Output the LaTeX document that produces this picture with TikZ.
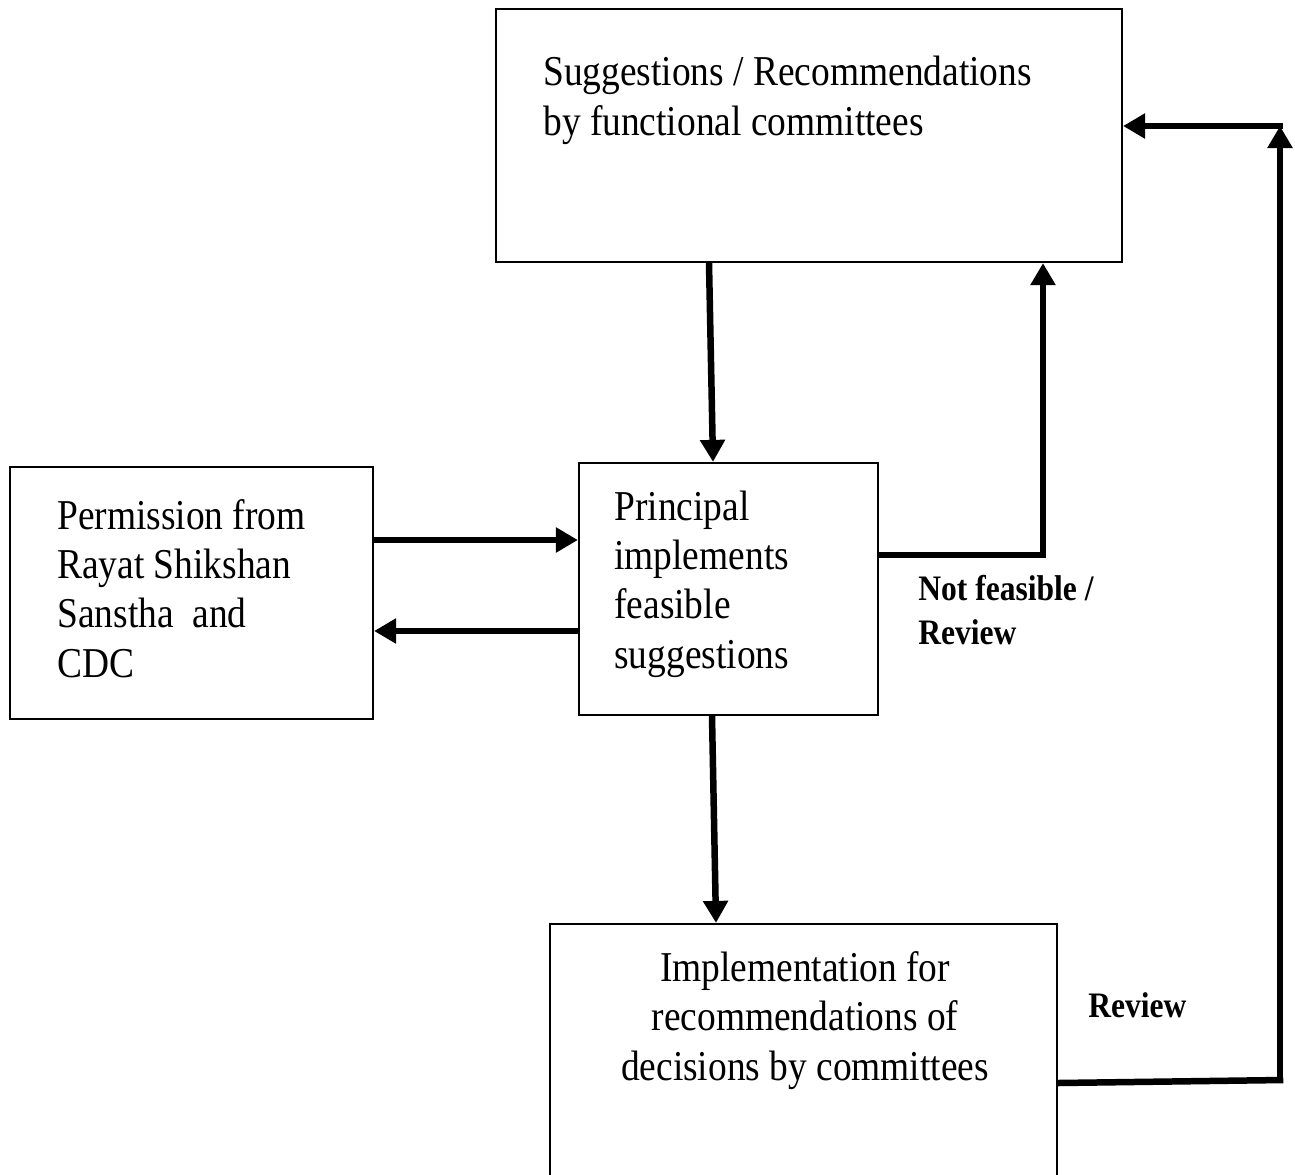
\documentclass[tikz,border=0pt]{standalone}
\usepackage{fontspec}
\setmainfont[FakeStretch=0.88]{Liberation Serif}
\usetikzlibrary{arrows.meta}
\begin{document}
\begin{tikzpicture}[x=0.02cm,y=-0.02cm,
  boxnode/.style={draw=black,line width=1.3pt,rectangle,inner sep=0pt},
  txt/.style={inner sep=0pt,font=\fontsize{24.2pt}{27.9pt}\selectfont},
  lbl/.style={inner sep=0pt,align=left,font=\fontsize{20.4pt}{24.5pt}\selectfont\bfseries},
  conn/.style={line width=0.13cm},
  arr/.style={conn,-{Triangle[length=0.44cm,width=0.48cm]}}]
\useasboundingbox (0,0) rectangle (1295,1174);
% boxes
\node[boxnode,minimum width=12.52cm,minimum height=5.06cm] (top) at (809,135.5) {};
\node[boxnode,minimum width=7.26cm,minimum height=5.04cm] (left) at (191.5,593) {};
\node[boxnode,minimum width=5.98cm,minimum height=5.04cm] (mid) at (728.5,589) {};
\node[boxnode,minimum width=10.14cm,minimum height=5.2cm] (bot) at (803.5,1054) {};
% texts (base anchor = baseline of last line)
\node[txt,anchor=base west,align=left] (ttop) at (543,135) {Suggestions / Recommendations\\by functional committees};
\node[txt,anchor=base west,align=left] (tleft) at (57,677) {Permission from\\Rayat Shikshan\\Sanstha\ \ and\\CDC};
\node[txt,anchor=base west,align=left] (tmid) at (614,668) {Principal\\implements\\feasible\\suggestions};
\node[txt,anchor=base,align=center] (tbot) at (805,1080) {Implementation for\\recommendations of\\decisions by committees};
\node[lbl,anchor=base west] (lnf) at (918,644) {Not feasible /\\Review};
\node[lbl,anchor=base west] (lrev) at (1088,1017) {Review};
% corner coordinates
\coordinate (c1) at (1043,555);
\coordinate (c2) at (1280,1080);
\coordinate (c3) at (1280,126);
% connectors
\draw[arr] (top.south -| 709,0) -- (mid.north -| 713,0);
\draw[arr] (left.east |- 0,540) -- (mid.west |- 0,540);
\draw[arr] (mid.west |- 0,631) -- (left.east |- 0,631);
\draw[conn] (mid.east |- c1) -- ([xshift=0.065cm]c1);
\draw[arr] (c1) -- (top.south -| c1);
\draw[arr] (mid.south -| 712,0) -- (bot.north -| 716,0);
\draw[conn] (bot.east |- 0,1083) -- ([xshift=0.065cm]c2);
\draw[arr] (c2) -- (c3);
\draw[arr] ([xshift=0.065cm]c3) -- (top.east |- c3);
\end{tikzpicture}
\end{document}
